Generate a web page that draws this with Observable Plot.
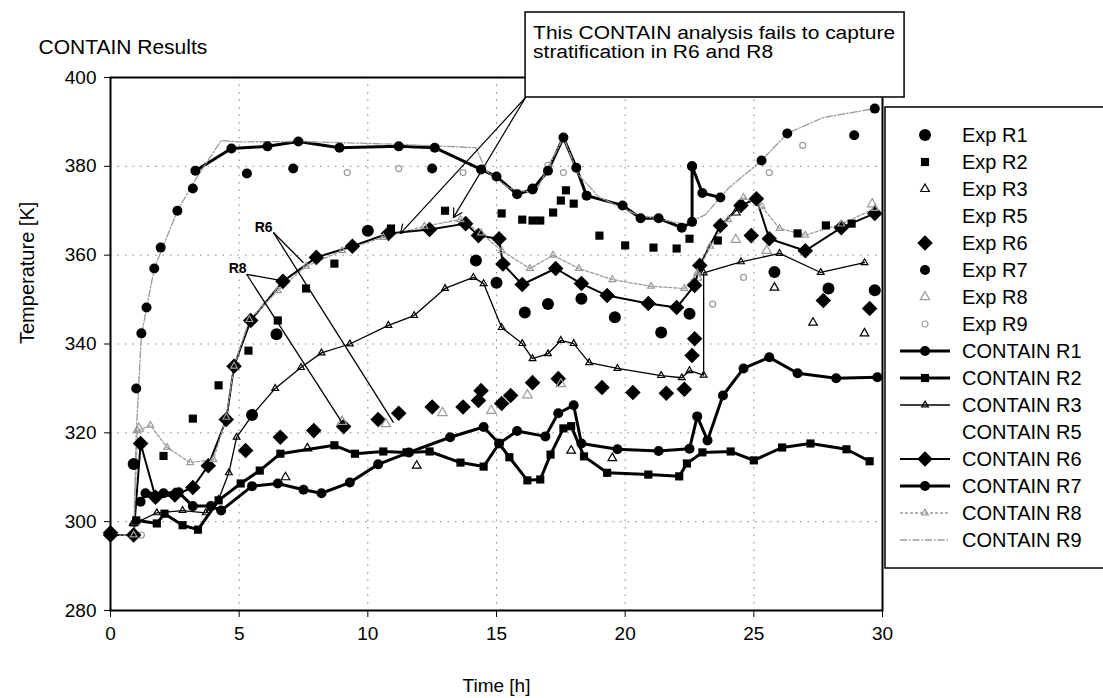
<!DOCTYPE html>
<html><head><meta charset="utf-8">
<script src="https://cdn.jsdelivr.net/npm/d3@7"></script>
<script src="https://cdn.jsdelivr.net/npm/@observablehq/plot@0.6"></script>
<style>html,body{margin:0;padding:0;background:#fff;}</style>
</head><body><div id="chart"></div>
<script>
// ---- ticks ----
const xTicks = [0, 5, 10, 15, 20, 25, 30];
const yTicks = [280, 300, 320, 340, 360, 380, 400];

// ---- Experimental series [time h, temperature K] ----
const expR1 = [[0.9,313],[5.5,324],[6.45,342.2],[10,365.5],[14.2,358.8],[15,353.8],[16.1,347.1],[17,349],[18.3,350.2],[19.6,346],[21.4,342.6],[22.5,346.8],[25.8,356.2],[27.9,352.5],[29.7,352.1]];
const expR2 = [[2.06,314.8],[3.2,323.2],[4.2,330.7],[5.36,338.5],[6.5,345.3],[7.6,352.5],[8.7,358.1],[10.9,366],[13,370],[15.2,369.4],[16,368],[16.4,367.8],[16.7,367.8],[17.2,369.6],[17.5,372.3],[17.7,374.6],[18,371.6],[19,364.4],[20,362.2],[21.1,361.7],[22,361.5],[22.5,363.7],[23.6,363.3],[26.7,364.9],[27.8,366.7],[28.8,367.1]];
const expR3 = [[0.9,299.8],[6.8,310],[7.65,316.5],[11.9,312.6],[17.9,316],[19.5,314.3],[24.3,369.6],[25.8,352.7],[27.3,344.8],[29.3,342.4]];
const expR5 = [];
const expR6 = [[0,297.5],[5.25,316],[6.6,319],[7.9,320.5],[9.06,321.4],[10.4,323],[11.2,324.4],[12.5,325.8],[13.7,325.8],[14.3,327.3],[14.4,329.5],[15.2,326.6],[15.55,328.4],[16.4,331.3],[17.4,332.2],[19.1,330.2],[20.3,329.1],[21.6,328.9],[22.3,329.8],[22.6,337.4],[22.7,341.2],[24.9,364.4],[27.7,349.8],[29.5,348]];
const expR7 = [[1.0,330],[1.2,342.4],[1.4,348.2],[1.7,357],[1.95,361.7],[2.6,370],[3.2,375],[5.3,378.4],[7.1,379.5],[12.5,379.5],[16.4,375],[22.6,380],[25.3,381.3],[26.3,387.4],[28.9,387],[29.7,393]];
const expR8 = [[1.1,321],[5.4,345.5],[9.0,322.5],[10.7,322],[12.9,324.5],[14.8,325],[16.2,328.5],[17.5,331],[22.8,355],[24.3,363.5],[25.5,361],[29.6,371.5]];
const expR9 = [[1.2,297],[9.2,378.6],[11.2,379.5],[13.7,378.6],[17.0,380.2],[17.6,378.6],[23.4,349],[24.6,355],[25.6,378.6],[26.9,384.7]];

// ---- CONTAIN series ----
const cR1 = [[1.17,304.5],[1.36,306.4],[2.06,306.4],[2.65,306.6],[3.2,303.5],[3.9,303.5],[4.3,302.5],[5.5,308],[6.5,308.6],[7.5,307.2],[8.2,306.4],[9.3,308.8],[10.4,312.9],[11.6,315.6],[13.2,319],[14.5,321.3],[15.1,317.6],[15.8,320.4],[16.9,319.2],[17.4,324.4],[18,326.2],[18.3,317.6],[19.7,316.3],[21.3,315.9],[22.5,316.4],[22.8,323.7],[23.2,318.3],[23.8,328.4],[24.6,334.5],[25.6,337],[26.7,333.4],[28.2,332.3],[29.8,332.5]];
const cR2 = [[1.0,300.3],[1.8,299.6],[2.1,301.8],[2.8,299.2],[3.4,298.2],[4.2,304.8],[5.06,308.6],[5.8,311.5],[6.6,315.3],[8.7,317.2],[9.5,315.3],[10.6,315.8],[11.5,315.6],[12.4,315.8],[13.6,313.3],[14.5,312.4],[15.1,317.6],[15.5,314.5],[16.2,309.3],[16.7,309.5],[17.1,315.1],[17.6,321],[17.9,321.5],[18.4,314.7],[19.3,311],[20.9,310.6],[22.1,310.2],[22.4,313.1],[23,315.6],[24.1,315.8],[25,313.8],[26.1,316.7],[27.2,317.6],[28.6,316.3],[29.5,313.6]];
const cR3 = [[0.9,299.5],[1.8,302],[2.8,302.5],[3.7,302],[4.2,305],[4.6,311],[4.9,319],[5.55,324.3],[6.4,330],[7.4,334.7],[8.2,338],[9.3,340],[10.8,344.2],[11.8,346.4],[13,352.5],[14.1,355],[14.5,353.6],[15.2,343.7],[16,340.1],[16.4,336.7],[17,337.8],[17.5,340.8],[18,340.1],[18.6,335.8],[19.7,334.5],[21.4,332.9],[22.2,332.4],[22.5,334],[23.05,333],[23.05,356],[24.5,358.5],[26,360.4],[27.6,356.1],[29.3,358.3]];
const cR5 = [];
const cR6 = [[0,297],[0.9,297],[1.17,317.6],[1.75,305.5],[2.5,306],[3.2,307.7],[3.8,312.6],[4.5,323],[4.8,335],[5.45,345.3],[6.7,354.1],[8,359.5],[9.4,362],[10.8,364.9],[12.4,365.8],[13.8,367.1],[14.3,364.4],[15.1,363.7],[15.25,358],[16,353.4],[17.3,357],[18.3,353.6],[19.3,350.9],[20.9,349.1],[22,348.2],[22.7,353.2],[22.9,357.7],[23.7,366.7],[24.5,371.2],[25.1,372.7],[25.6,363.7],[27,361],[28.4,366.2],[29.7,369.4]];
const cR7 = [[3.3,379],[4.7,384],[6.1,384.5],[7.3,385.6],[8.9,384.2],[11.2,384.5],[12.6,384.2],[14.4,379.3],[15.0,377.7],[15.8,373.7],[16.4,374.8],[17.0,379],[17.6,386.5],[18.1,379.7],[18.5,373.4],[19.9,371.2],[20.6,368.3],[21.3,368.3],[22.2,366.2],[22.6,367.5],[22.6,380],[23.0,374],[23.7,373]];
const cR8 = [[0.9,297],[1.05,320.5],[1.55,321.7],[2.2,316.7],[3.1,313.3],[4.0,314],[4.5,323.5],[4.8,335],[5.4,345.5],[6.5,352],[7.6,357.5],[9,361],[10.6,364],[12.2,366.5],[13.6,368],[14.4,365],[15.2,361],[16.3,357],[17.2,360],[18.2,357],[19.5,354.5],[21,353],[22.3,352.5],[22.8,356],[23.3,362],[24,368],[24.6,373],[25.3,371],[26,366],[27,364.5],[28.4,367],[29.7,370.5]];
const cR9 = [[0,297],[0.9,297],[1.0,320],[1.2,342],[1.7,357],[2.6,370],[3.3,377],[4.3,385.8],[5.0,385.5],[7.3,385.6],[11,385],[14.2,384.2],[14.6,379],[15.5,375],[16.5,374],[17.6,386.5],[18.2,378],[19,373],[20.5,369],[22.3,367],[23.1,369],[24,375],[25.3,381.3],[26.3,387.4],[27.7,391],[29.7,393]];

// ---- annotation anchors (data coords) ----
const noteText = ["This CONTAIN analysis fails to capture", "stratification in R6 and R8"];
const noteFrom = [16.13, 395.5];
const noteTargets = [[11.27, 364.9], [13.33, 368.5]];
const r6Label = {name: "R6", t: 5.95, T: 366.2, from: [6.33, 365.1], to: [[7.5, 358.3], [11.0, 322.3]]};
const r8Label = {name: "R8", t: 4.94, T: 357.0, from: [5.29, 355.7], to: [[6.6, 354.3], [9.0, 322.3]]};

const P = a => a.map(([t, T]) => ({t, T}));
const GRAY = "#9a9a9a";
const FONT = "Arial, 'Liberation Sans', sans-serif";

const series = [
  {name:"Exp R1", data:expR1, symbol:"circle", r:6, fill:"black"},
  {name:"Exp R2", data:expR2, symbol:"square", r:4.6, fill:"black"},
  {name:"Exp R3", data:expR3, symbol:"triangle", r:3.2, fill:"none", stroke:"black"},
  {name:"Exp R5", data:expR5, symbol:null},
  {name:"Exp R6", data:expR6, symbol:"diamond2", r:7, fill:"black"},
  {name:"Exp R7", data:expR7, symbol:"circle", r:5, fill:"black"},
  {name:"Exp R8", data:expR8, symbol:"triangle", r:3.5, fill:"none", stroke:GRAY},
  {name:"Exp R9", data:expR9, symbol:"circle", r:3, fill:"none", stroke:GRAY},
  {name:"CONTAIN R1", data:cR1, line:{stroke:"black", w:3}, symbol:"circle", r:5, fill:"black"},
  {name:"CONTAIN R2", data:cR2, line:{stroke:"black", w:3}, symbol:"square", r:4.6, fill:"black"},
  {name:"CONTAIN R3", data:cR3, line:{stroke:"black", w:1.3}, symbol:"triangle", r:2.5, fill:"none", stroke:"black"},
  {name:"CONTAIN R5", data:cR5, symbol:null},
  {name:"CONTAIN R6", data:cR6, line:{stroke:"black", w:2}, symbol:"diamond2", r:7, fill:"black"},
  {name:"CONTAIN R7", data:cR7, line:{stroke:"black", w:3}, symbol:"circle", r:5, fill:"black"},
  {name:"CONTAIN R8", data:cR8, line:{stroke:GRAY, w:1.3, dash:"3,2"}, symbol:"triangle", r:2.5, fill:"none", stroke:GRAY},
  {name:"CONTAIN R9", data:cR9, line:{stroke:GRAY, w:1.3, dash:"7,2,1.5,2"}, symbol:null}
];

const marks = [
  Plot.gridY(yTicks.slice(1, -1), {stroke:"#777", strokeOpacity:0.9, strokeDasharray:"1.5,6"}),
  Plot.gridX(xTicks.slice(1, -1), {stroke:"#777", strokeOpacity:0.9, strokeDasharray:"1.5,6"}),
];
for (const s of series) {
  const pts = P(s.data);
  if (s.line) marks.push(Plot.line(pts, {x:"t", y:"T", stroke:s.line.stroke, strokeWidth:s.line.w, strokeDasharray:s.line.dash || null}));
}
for (const s of series) {
  const pts = P(s.data);
  if (s.symbol) marks.push(Plot.dot(pts, {x:"t", y:"T", symbol:s.symbol, r:s.r, fill:s.fill, stroke:s.stroke || "none", strokeWidth:1.2}));
}
for (const L of [r6Label, r8Label]) {
  marks.push(Plot.link(L.to, {x1:() => L.from[0], y1:() => L.from[1], x2:d => d[0], y2:d => d[1], stroke:"black", strokeWidth:1.3}));
  marks.push(Plot.text([L], {x:"t", y:"T", text:"name", fontWeight:"bold", fontSize:14, fill:"black"}));
}
marks.push(Plot.arrow(noteTargets, {x1:() => noteFrom[0], y1:() => noteFrom[1], x2:d => d[0], y2:d => d[1], stroke:"black", strokeWidth:1.2, headLength:12}));
marks.push(Plot.frame({stroke:"black", strokeWidth:2}));
marks.push(Plot.axisY(yTicks, {tickSize:6, tickPadding:8, label:null, fontSize:19}));
marks.push(Plot.axisX(xTicks, {tickSize:7, tickPadding:9, label:null, fontSize:19}));
marks.push(Plot.text(["Time [h]"], {frameAnchor:"bottom", lineAnchor:"middle", dy:75, fontSize:19}));
marks.push(Plot.text(["Temperature [K]"], {frameAnchor:"left", dx:-83, rotate:-90, fontSize:20}));
marks.push(Plot.text(["CONTAIN Results"], {frameAnchor:"top-left", lineAnchor:"middle", dx:-72, dy:-30, textAnchor:"start", fontSize:21}));

const chart = Plot.plot({
  width:1103, height:698,
  marginLeft:110, marginRight:221, marginTop:77, marginBottom:88,
  x:{domain:[0, 30]}, y:{domain:[280, 400]},
  style:{fontFamily:FONT, fontSize:"19px", background:"white", color:"black"},
  marks
});
document.getElementById("chart").appendChild(chart);

// ---- annotation box ----
const svg = d3.select(chart);
const sx = chart.scale("x"), sy = chart.scale("y");
const bx = sx.apply(noteFrom[0]), by = sy.apply(noteFrom[1]);
const note = svg.append("g").attr("text-anchor", "start");
note.append("rect").attr("x", bx).attr("y", 12).attr("width", 379).attr("height", by - 12)
  .attr("fill", "white").attr("stroke", "black").attr("stroke-width", 1.5);
const noteLens = [362, 240];
noteText.forEach((t, i) => note.append("text").attr("x", bx + 8).attr("y", 33 + i * 19).attr("dy", "0.36em")
  .attr("text-anchor", "start").attr("font-family", FONT).attr("font-size", 18)
  .attr("textLength", noteLens[i]).attr("lengthAdjust", "spacingAndGlyphs").text(t));

// ---- legend ----
const lg = svg.append("g").attr("text-anchor", "start");
lg.append("rect").attr("x", 885).attr("y", 107).attr("width", 230).attr("height", 461)
  .attr("fill", "white").attr("stroke", "black").attr("stroke-width", 1.5);
const symMap = {circle:d3.symbolCircle, square:d3.symbolSquare, triangle:d3.symbolTriangle, diamond2:d3.symbolDiamond2 || d3.symbolDiamond};
series.forEach((s, i) => {
  const y = 135 + i * 27;
  if (s.line) {
    lg.append("line").attr("x1", 900).attr("x2", 950).attr("y1", y).attr("y2", y)
      .attr("stroke", s.line.stroke).attr("stroke-width", s.line.w).attr("stroke-dasharray", s.line.dash || null);
  }
  if (s.symbol) {
    const area = Math.PI * s.r * s.r;
    lg.append("path").attr("transform", `translate(925,${y})`)
      .attr("d", d3.symbol(symMap[s.symbol], area)())
      .attr("fill", s.fill).attr("stroke", s.stroke || "none").attr("stroke-width", 1.2);
  }
  lg.append("text").attr("x", 962).attr("y", y).attr("dy", "0.36em").attr("text-anchor", "start")
    .attr("font-family", FONT).attr("font-size", 20).text(s.name);
});
</script>
</body></html>
